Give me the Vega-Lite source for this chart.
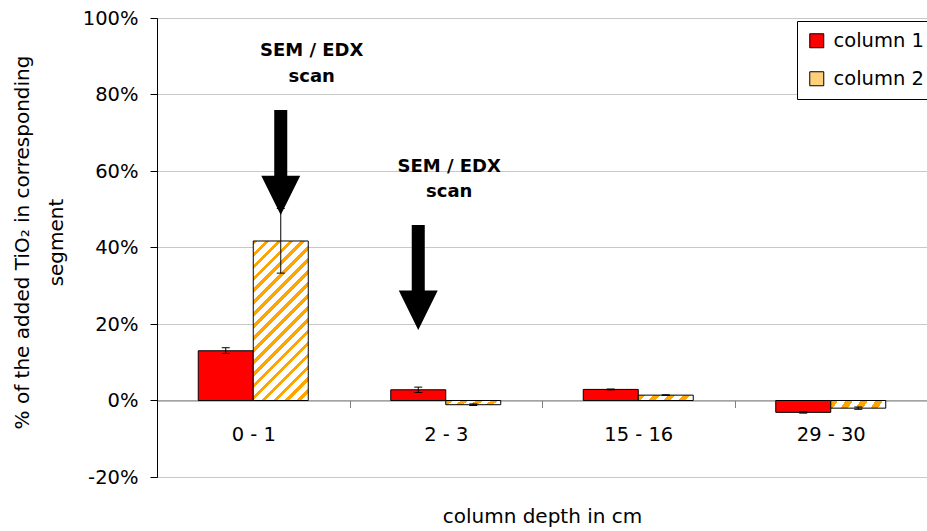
{
  "$schema": "https://vega.github.io/schema/vega-lite/v6.json",
  "width": 770,
  "height": 459,
  "autosize": {"type": "none"},
  "padding": {"left": 157, "top": 18, "right": 0, "bottom": 54},
  "background": "white",
  "config": {
    "view": {"stroke": "#555555", "strokeWidth": 1},
    "font": "DejaVu Sans"
  },
  "datasets": {
    "bars": [
      {"depth": "0 - 1", "column": "column 1", "value": 0.130, "lo": 0.123, "hi": 0.138},
      {"depth": "0 - 1", "column": "column 2", "value": 0.417, "lo": 0.333, "hi": 0.502},
      {"depth": "2 - 3", "column": "column 1", "value": 0.028, "lo": 0.021, "hi": 0.035},
      {"depth": "2 - 3", "column": "column 2", "value": -0.011, "lo": -0.013, "hi": -0.009},
      {"depth": "15 - 16", "column": "column 1", "value": 0.029, "lo": 0.028, "hi": 0.030},
      {"depth": "15 - 16", "column": "column 2", "value": 0.014, "lo": 0.013, "hi": 0.015},
      {"depth": "29 - 30", "column": "column 1", "value": -0.031, "lo": -0.033, "hi": -0.029},
      {"depth": "29 - 30", "column": "column 2", "value": -0.020, "lo": -0.023, "hi": -0.017}
    ],
    "arrows": [
      {"depth": "0 - 1", "column": "column 2", "value": 0.622},
      {"depth": "2 - 3", "column": "column 1", "value": 0.3216}
    ],
    "notes": [
      {"depth": "0 - 1", "column": "column 2", "value": 0.936, "label": "SEM / EDX\nscan"},
      {"depth": "2 - 3", "column": "column 1", "value": 0.635, "label": "SEM / EDX\nscan"}
    ]
  },
  "encoding": {
    "x": {
      "field": "depth",
      "type": "nominal",
      "sort": ["0 - 1", "2 - 3", "15 - 16", "29 - 30"],
      "scale": {"paddingInner": 0, "paddingOuter": 0},
      "axis": {
        "title": "column depth in cm",
        "orient": "bottom",
        "offset": -76.5,
        "tickBand": "extent",
        "domainColor": "#808080",
        "tickColor": "#808080",
        "tickSize": 7,
        "labelFontSize": 19.5,
        "labelColor": "black",
        "labelPadding": 18,
        "labelAngle": 0,
        "titleFontSize": 20,
        "titleFontWeight": "normal",
        "titleColor": "black",
        "titleY": 122,
        "titleBaseline": "alphabetic",
        "grid": false
      }
    },
    "xOffset": {
      "field": "column",
      "type": "nominal",
      "sort": ["column 1", "column 2"],
      "scale": {"paddingInner": 0, "paddingOuter": 0.75}
    }
  },
  "layer": [
    {
      "data": {"name": "bars"},
      "mark": {"type": "bar", "strokeWidth": 1},
      "encoding": {
        "y": {
          "field": "value",
          "type": "quantitative",
          "scale": {"domain": [-0.2, 1], "nice": false},
          "axis": {
            "title": ["% of the added TiO₂ in corresponding", "segment"],
            "values": [-0.2, 0, 0.2, 0.4, 0.6, 0.8, 1],
            "labelExpr": "round(datum.value*100) + '%'",
            "domainColor": "black",
            "tickColor": "black",
            "tickSize": 7,
            "labelFontSize": 19.5,
            "labelColor": "black",
            "labelPadding": 12,
            "gridColor": "#C8C8C8",
            "titleFontSize": 20,
            "titleFontWeight": "normal",
            "titleColor": "black",
            "titleX": -129,
            "titleY": 224,
            "titleBaseline": "alphabetic",
            "titleLineHeight": 34
          }
        },
        "stroke": {
          "field": "column",
          "type": "nominal",
          "scale": {"domain": ["column 1", "column 2"], "range": ["#000000", "#000000"]},
          "legend": {"title": null}
        },
        "fill": {
          "field": "column",
          "type": "nominal",
          "scale": {"domain": ["column 1", "column 2"], "range": ["#FF0000", "#FFD07A"]},
          "condition": [
            {
              "test": "datum.column === 'column 2' && datum.depth === '0 - 1'",
              "value": {
                "gradient": "linear", "x1": 0, "y1": 0, "x2": 0.4145, "y2": 1.202,
                "stops": [
                  {"offset": 0, "color": "#FFA500"}, {"offset": 0.022, "color": "#FFA500"}, {"offset": 0.022, "color": "#FFFFFF"}, {"offset": 0.0556, "color": "#FFFFFF"},
                  {"offset": 0.0556, "color": "#FFA500"}, {"offset": 0.0776, "color": "#FFA500"}, {"offset": 0.0776, "color": "#FFFFFF"}, {"offset": 0.1111, "color": "#FFFFFF"},
                  {"offset": 0.1111, "color": "#FFA500"}, {"offset": 0.1331, "color": "#FFA500"}, {"offset": 0.1331, "color": "#FFFFFF"}, {"offset": 0.1667, "color": "#FFFFFF"},
                  {"offset": 0.1667, "color": "#FFA500"}, {"offset": 0.1887, "color": "#FFA500"}, {"offset": 0.1887, "color": "#FFFFFF"}, {"offset": 0.2222, "color": "#FFFFFF"},
                  {"offset": 0.2222, "color": "#FFA500"}, {"offset": 0.2442, "color": "#FFA500"}, {"offset": 0.2442, "color": "#FFFFFF"}, {"offset": 0.2778, "color": "#FFFFFF"},
                  {"offset": 0.2778, "color": "#FFA500"}, {"offset": 0.2998, "color": "#FFA500"}, {"offset": 0.2998, "color": "#FFFFFF"}, {"offset": 0.3333, "color": "#FFFFFF"},
                  {"offset": 0.3333, "color": "#FFA500"}, {"offset": 0.3553, "color": "#FFA500"}, {"offset": 0.3553, "color": "#FFFFFF"}, {"offset": 0.3889, "color": "#FFFFFF"},
                  {"offset": 0.3889, "color": "#FFA500"}, {"offset": 0.4109, "color": "#FFA500"}, {"offset": 0.4109, "color": "#FFFFFF"}, {"offset": 0.4444, "color": "#FFFFFF"},
                  {"offset": 0.4444, "color": "#FFA500"}, {"offset": 0.4664, "color": "#FFA500"}, {"offset": 0.4664, "color": "#FFFFFF"}, {"offset": 0.5, "color": "#FFFFFF"},
                  {"offset": 0.5, "color": "#FFA500"}, {"offset": 0.522, "color": "#FFA500"}, {"offset": 0.522, "color": "#FFFFFF"}, {"offset": 0.5556, "color": "#FFFFFF"},
                  {"offset": 0.5556, "color": "#FFA500"}, {"offset": 0.5776, "color": "#FFA500"}, {"offset": 0.5776, "color": "#FFFFFF"}, {"offset": 0.6111, "color": "#FFFFFF"},
                  {"offset": 0.6111, "color": "#FFA500"}, {"offset": 0.6331, "color": "#FFA500"}, {"offset": 0.6331, "color": "#FFFFFF"}, {"offset": 0.6667, "color": "#FFFFFF"},
                  {"offset": 0.6667, "color": "#FFA500"}, {"offset": 0.6887, "color": "#FFA500"}, {"offset": 0.6887, "color": "#FFFFFF"}, {"offset": 0.7222, "color": "#FFFFFF"},
                  {"offset": 0.7222, "color": "#FFA500"}, {"offset": 0.7442, "color": "#FFA500"}, {"offset": 0.7442, "color": "#FFFFFF"}, {"offset": 0.7778, "color": "#FFFFFF"},
                  {"offset": 0.7778, "color": "#FFA500"}, {"offset": 0.7998, "color": "#FFA500"}, {"offset": 0.7998, "color": "#FFFFFF"}, {"offset": 0.8333, "color": "#FFFFFF"},
                  {"offset": 0.8333, "color": "#FFA500"}, {"offset": 0.8553, "color": "#FFA500"}, {"offset": 0.8553, "color": "#FFFFFF"}, {"offset": 0.8889, "color": "#FFFFFF"},
                  {"offset": 0.8889, "color": "#FFA500"}, {"offset": 0.9109, "color": "#FFA500"}, {"offset": 0.9109, "color": "#FFFFFF"}, {"offset": 0.9444, "color": "#FFFFFF"},
                  {"offset": 0.9444, "color": "#FFA500"}, {"offset": 0.9664, "color": "#FFA500"}, {"offset": 0.9664, "color": "#FFFFFF"}, {"offset": 1, "color": "#FFFFFF"}
                ]
              }
            },
            {
              "test": "datum.column === 'column 2'",
              "value": {
                "gradient": "linear", "x1": 0, "y1": 0, "x2": 1.082, "y2": 0.098,
                "stops": [
                  {"offset": 0, "color": "#FFA500"}, {"offset": 0.12, "color": "#FFA500"}, {"offset": 0.12, "color": "#FFFFFF"}, {"offset": 0.25, "color": "#FFFFFF"},
                  {"offset": 0.25, "color": "#FFA500"}, {"offset": 0.37, "color": "#FFA500"}, {"offset": 0.37, "color": "#FFFFFF"}, {"offset": 0.5, "color": "#FFFFFF"},
                  {"offset": 0.5, "color": "#FFA500"}, {"offset": 0.62, "color": "#FFA500"}, {"offset": 0.62, "color": "#FFFFFF"}, {"offset": 0.75, "color": "#FFFFFF"},
                  {"offset": 0.75, "color": "#FFA500"}, {"offset": 0.87, "color": "#FFA500"}, {"offset": 0.87, "color": "#FFFFFF"}, {"offset": 1, "color": "#FFFFFF"}
                ]
              }
            }
          ],
          "legend": {
            "title": null,
            "orient": "none",
            "legendX": 640,
            "legendY": 3,
            "padding": 10,
            "rowPadding": 17,
            "symbolType": "square",
            "symbolSize": 196,
            "symbolStrokeWidth": 1,
            "symbolOpacity": 1,
            "labelFont": "DejaVu Sans",
            "labelFontSize": 19.5,
            "labelColor": "black",
            "labelOffset": 7,
            "strokeColor": "black",
            "fillColor": "white"
          }
        }
      }
    },
    {
      "data": {"name": "bars"},
      "mark": {"type": "rule", "color": "black", "strokeWidth": 1},
      "encoding": {
        "y": {"field": "lo", "type": "quantitative"},
        "y2": {"field": "hi"}
      }
    },
    {
      "data": {"name": "bars"},
      "mark": {"type": "tick", "orient": "horizontal", "size": 8, "thickness": 1, "color": "black", "opacity": 1},
      "encoding": {
        "y": {"field": "lo", "type": "quantitative"}
      }
    },
    {
      "data": {"name": "bars"},
      "mark": {"type": "tick", "orient": "horizontal", "size": 8, "thickness": 1, "color": "black", "opacity": 1},
      "encoding": {
        "y": {"field": "hi", "type": "quantitative"}
      }
    },
    {
      "data": {"name": "arrows"},
      "mark": {
        "type": "point",
        "shape": "M -0.124 -1 L 0.124 -1 L 0.124 0.25 L 0.371 0.25 L 0 1 L -0.371 0.25 L -0.124 0.25 Z",
        "size": 11025,
        "filled": true,
        "color": "black",
        "opacity": 1
      },
      "encoding": {
        "y": {"field": "value", "type": "quantitative"}
      }
    },
    {
      "data": {"name": "notes"},
      "mark": {
        "type": "text",
        "font": "DejaVu Sans",
        "fontWeight": "bold",
        "fontSize": 18,
        "align": "center",
        "baseline": "top",
        "lineBreak": "\n",
        "lineHeight": 25.6,
        "dx": 31,
        "color": "black"
      },
      "encoding": {
        "y": {"field": "value", "type": "quantitative"},
        "text": {"field": "label", "type": "nominal"}
      }
    }
  ]
}
